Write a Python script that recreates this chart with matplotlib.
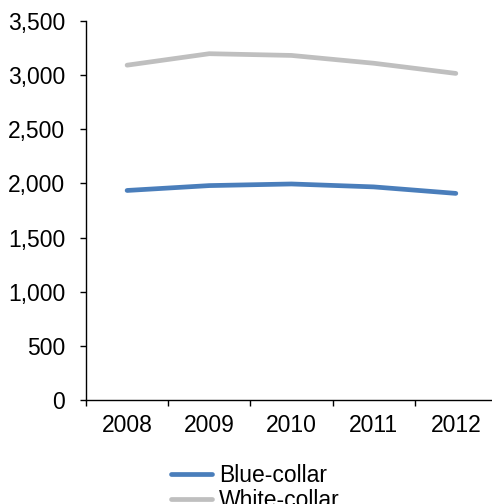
import matplotlib
matplotlib.use("Agg")
import matplotlib.pyplot as plt

plt.rcParams['font.family'] = ['Liberation Sans', 'DejaVu Sans']

years = ["2008", "2009", "2010", "2011", "2012"]
blue_collar = [1935, 1980, 1995, 1968, 1908]
white_collar = [3092, 3198, 3182, 3110, 3016]
y_ticks = [0, 500, 1000, 1500, 2000, 2500, 3000, 3500]

fig = plt.figure(figsize=(4.92, 5.04), dpi=100)
ax = fig.add_axes([86/492, 1 - 400/504, 1 - 86/492 + 0.01, (400 - 21)/504])

x = list(range(len(years)))
l1, = ax.plot(x, blue_collar, color='#4A7EBB', lw=3.4, solid_capstyle='round', label='Blue-collar')
l2, = ax.plot(x, white_collar, color='#BFBFBF', lw=3.4, solid_capstyle='round', label='White-collar')

ax.set_xlim(-0.5, len(years) - 0.5)
ax.set_ylim(0, 3500)
ax.set_yticks(y_ticks)
ax.set_yticklabels([f"{v:,}" for v in y_ticks])
ax.set_xticks([i - 0.5 for i in range(len(years) + 1)])
ax.set_xticklabels([])
ax.set_xticks(x, minor=True)
ax.set_xticklabels(years, minor=True)
ax.tick_params(axis='x', which='minor', length=0, pad=10, labelsize=16.5)
ax.tick_params(axis='x', which='major', length=4, width=1, direction='out')
ax.tick_params(axis='y', length=4, width=1, direction='out', labelsize=16.5, pad=11)

for s in ['top', 'right']:
    ax.spines[s].set_visible(False)
for s in ['left', 'bottom']:
    ax.spines[s].set_linewidth(1)
    ax.spines[s].set_color('black')

fig.legend(handles=[l1, l2], loc='upper left', bbox_to_anchor=(171/492, 1 - 464/504),
           frameon=False, fontsize=16.5, handlelength=1.8, handletextpad=0.3,
           labelspacing=0.1, borderpad=0, borderaxespad=0)

fig.savefig('out.png', dpi=100)
